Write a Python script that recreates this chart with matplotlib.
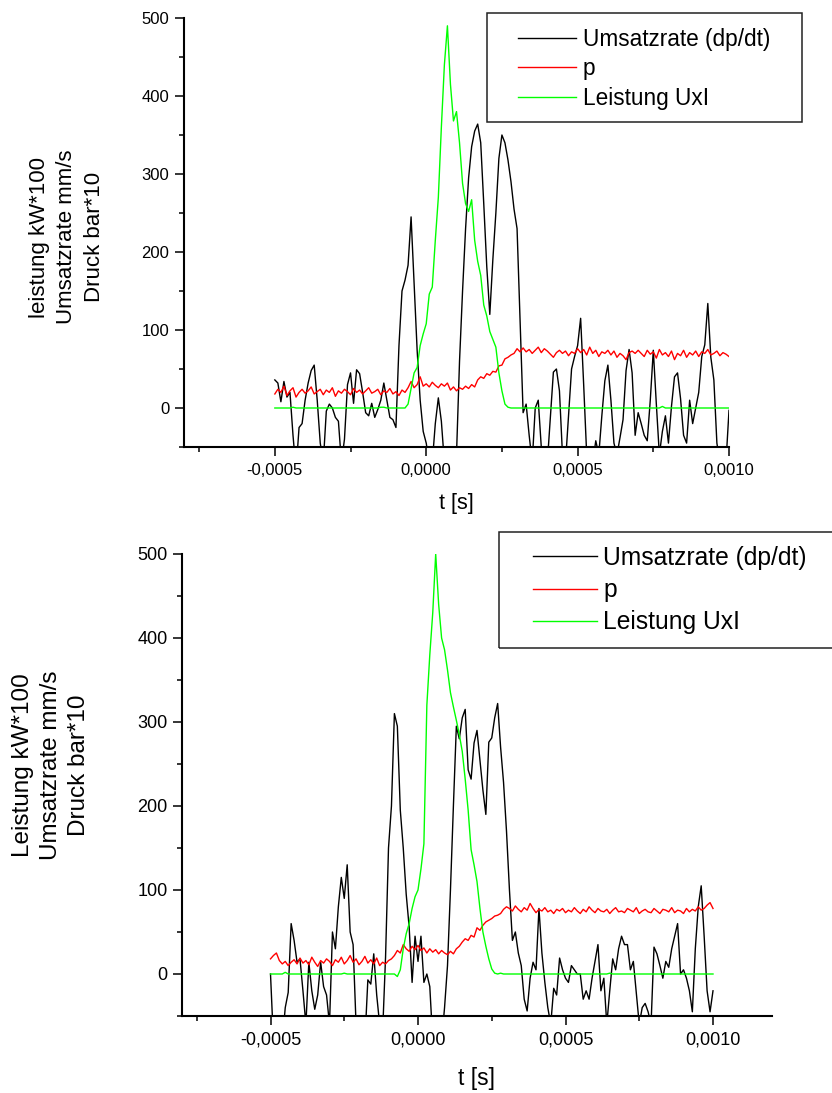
import numpy as np
import matplotlib
matplotlib.use("Agg")
import matplotlib.pyplot as plt
from matplotlib.patches import Rectangle
from matplotlib.ticker import FixedLocator, FuncFormatter

plt.rcParams['font.family'] = ['Liberation Sans', 'DejaVu Sans']

# time grid of the measurement, 10 us steps
t = np.linspace(-0.0005, 0.0010, 151)

# upper chart
ums_top = [
    36, 32, 8, 34, 14, 20, -35, -80, -25, -20,
    10, 32, 48, 55, 10, -45, -70, -4, 5, 0,
    -12, -17, -70, -40, 30, 45, 6, 49, 44, 20,
    -6, -10, 6, -12, -2, 10, 32, 10, -12, -15,
    -25, 80, 150, 164, 183, 245, 158, 74, 10, -30,
    -45, -70, -70, -20, 13, -17, -70, -80, -80, -80,
    -60, 60, 150, 230, 295, 335, 355, 364, 340, 262,
    181, 120, 190, 250, 320, 350, 340, 318, 290, 255,
    230, 113, -6, 5, -35, -70, 0, 10, -50, -70,
    -70, -12, 46, 50, 22, -60, -70, -10, 50, 66,
    80, 115, 30, -60, -80, -70, -42, -60, -10, 35,
    55, 10, -45, -60, -38, -15, 48, 75, 45, -35,
    -6, -20, -35, -42, 10, 74, 5, -60, -30, -10,
    -45, 2, 40, 45, 12, -35, -45, 10, -20, 0,
    20, 66, 81, 134, 65, 36, -45, -70, -70, -70,
    -3]
p_top = [
    18, 24, 20, 28, 16, 22, 26, 14, 20, 24,
    19, 22, 27, 18, 21, 24, 17, 23, 20, 26,
    15, 22, 19, 24, 21, 17, 25, 20, 23, 18,
    22, 26, 19, 21, 24, 17, 22, 20, 25, 18,
    21, 16, 23, 20, 26, 34, 26, 30, 40, 28,
    31, 27, 33, 29, 26, 31, 28, 32, 23, 27,
    22, 26, 24, 28, 25, 30, 27, 36, 40, 38,
    44, 42, 47, 46, 54, 55, 63, 65, 68, 70,
    76, 72, 77, 72, 75, 70, 74, 78, 71, 76,
    73, 69, 65, 71, 74, 70, 73, 67, 72, 70,
    76, 71, 75, 68, 78, 70, 74, 66, 72, 70,
    74, 68, 73, 65, 70, 67, 62, 71, 73, 70,
    74, 70, 66, 74, 69, 72, 64, 75, 68, 71,
    66, 73, 62, 70, 67, 74, 65, 71, 68, 73,
    66, 72, 70, 75, 68, 70, 73, 67, 71, 69,
    66]
leist_top = [
    0, 0, 0, 0, 0, 0, 1, 0, 0, 0,
    0, 0, 0, 0, 0, 0, 0, 0, 0, 0,
    0, 0, 0, 0, 0, 0, 0, 0, 0, 0,
    0, 0, 0, 0, 0, 1, 1, 0, 0, 0,
    0, 0, 0, 0, 5, 25, 45, 52, 80, 95,
    108, 146, 155, 215, 270, 360, 440, 490, 415, 368,
    380, 340, 288, 262, 252, 267, 215, 188, 170, 132,
    118, 98, 88, 78, 45, 22, 5, 1, 0, 0,
    0, 0, 0, 0, 0, 0, 0, 0, 0, 0,
    0, 0, 0, 0, 0, 0, 0, 0, 0, 0,
    0, 0, 0, 0, 0, 0, 0, 0, 0, 0,
    0, 0, 0, 0, 0, 0, 0, 0, 0, 0,
    0, 0, 0, 0, 0, 0, 0, 0, 2, 0,
    0, 0, 0, 0, 0, 0, 0, 0, 0, 0,
    0, 0, 0, 0, 0, 0, 0, 0, 0, 0,
    0]

# lower chart
ums_bot = [
    0, -80, -80, -80, -80, -40, -22, 60, 40, 14,
    18, -20, -60, 14, -20, -42, -25, 14, -15, -25,
    -60, 50, 30, 80, 115, 90, 130, 50, 35, -60,
    -80, -80, -80, -7, -12, 24, -25, -60, -70, 20,
    150, 200, 310, 295, 195, 150, 95, 56, -10, 45,
    15, 45, -10, 0, -15, -80, -80, -80, -80, -40,
    10, 100, 200, 295, 280, 305, 315, 243, 232, 275,
    290, 255, 219, 190, 276, 281, 305, 322, 270, 228,
    170, 100, 40, 50, 25, 10, -30, -44, -5, 14,
    5, 78, 25, -10, -40, -60, -17, -25, 19, 5,
    -5, -10, 10, 5, 0, 0, -30, -20, -30, -5,
    15, 35, -20, -5, -60, -20, 18, 5, 30, 45,
    35, 35, 5, 15, -22, -60, -40, -35, -45, -60,
    32, 24, 10, -5, 15, 8, 30, 45, 60, 0,
    5, -5, -20, -45, 30, 80, 105, 45, -20, -45,
    -20]
p_bot = [
    18, 22, 25, 16, 12, 15, 10, 14, 17, 12,
    19, 13, 16, 11, 20, 14, 9, 16, 13, 18,
    15, 10, 17, 14, 20, 12, 16, 22, 14, 18,
    11, 15, 21, 13, 17, 12, 19, 10, 14, 12,
    16, 18, 22, 28, 25, 35, 30, 27, 33, 29,
    34, 28, 31, 25, 30, 26, 29, 24, 28, 25,
    23, 27, 24, 30, 33, 38, 42, 40, 46, 44,
    55, 52, 58, 62, 64, 66, 69, 70, 72, 77,
    80, 78, 75, 81, 77, 74, 79, 76, 84, 78,
    73, 77, 75, 79, 74, 76, 72, 77, 75, 78,
    73, 76, 74, 79, 75, 72, 77, 74, 80, 76,
    73, 78, 75, 74, 77, 72, 76, 79, 74, 75,
    73, 78, 76, 74, 79, 72, 75, 77, 74, 73,
    78, 75, 72, 77, 76, 74, 79, 73, 76, 75,
    72, 78, 74, 77, 75, 80, 76, 78, 82, 85,
    78]
leist_bot = [
    0, 0, 0, 0, 0, 2, 0, 0, 0, 0,
    0, 0, 0, 0, 0, 0, 0, 0, 0, 0,
    0, 0, 0, 0, 0, 1, 0, 0, 0, 0,
    0, 0, 0, 0, 0, 0, 0, 0, 0, 0,
    0, 0, 0, -3, 5, 30, 48, 60, 78, 92,
    100, 125, 155, 320, 380, 430, 500, 440, 400, 386,
    362, 335, 318, 302, 285, 265, 232, 195, 148, 130,
    110, 78, 50, 33, 18, 6, 1, 0, 1, 0,
    0, 0, 0, 0, 0, 0, 0, 0, 0, 0,
    0, 0, 0, 0, 0, 0, 0, 0, 0, 0,
    0, 0, 0, 0, 0, 0, 0, 0, 0, 0,
    0, 0, 0, 0, 0, 1, 0, 0, 0, 0,
    0, 0, 0, 0, 0, 0, 0, 0, 0, 0,
    0, 0, 0, 0, 0, 0, 0, 0, 0, 0,
    0, 0, 0, 0, 0, 0, 0, 0, 0, 0,
    0]

labels = ['Umsatzrate (dp/dt)', 'p', 'Leistung UxI']
colors = ['#000000', '#ff0000', '#00ff00']
x_major = [-0.0005, 0.0, 0.0005, 0.0010]
x_minor = [-0.00075, -0.00025, 0.00025, 0.00075]
y_major = [0, 100, 200, 300, 400, 500]
y_minor = [-50, 50, 150, 250, 350, 450]

W, H = 832, 1093


def comma_fmt(v, pos):
    if abs(v) < 1e-12:
        v = 0.0
    return ('%.4f' % v).replace('.', ',')


def style_axis(ax, xmax, tick_size):
    ax.set_xlim(-0.0008, xmax)
    ax.set_ylim(-50, 500)
    for side in ['top', 'right']:
        ax.spines[side].set_visible(False)
    for side in ['left', 'bottom']:
        ax.spines[side].set_linewidth(1.5)
    ax.xaxis.set_major_locator(FixedLocator(x_major))
    ax.xaxis.set_minor_locator(FixedLocator(x_minor))
    ax.yaxis.set_major_locator(FixedLocator(y_major))
    ax.yaxis.set_minor_locator(FixedLocator(y_minor))
    ax.xaxis.set_major_formatter(FuncFormatter(comma_fmt))
    ax.tick_params(which='major', direction='out', length=6.5, width=1.1,
                   labelsize=tick_size, pad=4)
    ax.tick_params(which='minor', direction='out', length=3.6, width=1.1)
    ax.tick_params(axis='x', which='major', pad=5)


def draw(ax, series):
    lines = []
    for vals, c, lab in zip(series, colors, labels):
        ln, = ax.plot(t, vals, color=c, lw=1.0, label=lab)
        lines.append(ln)
    return lines


fig = plt.figure(figsize=(W / 100, H / 100), dpi=100)

# top chart
ax1 = fig.add_axes([184 / W, 1 - 447 / H, (729 - 184) / W, (447 - 18) / H])
lines1 = draw(ax1, [ums_top, p_top, leist_top])
style_axis(ax1, 0.0010, 12)
fig.text(67 / W, 1 - 237 / H, 'leistung kW*100\nUmsatzrate mm/s\nDruck bar*10',
         rotation=90, ha='center', va='center', multialignment='center',
         fontsize=16, linespacing=1.38)
fig.text(456 / W, 1 - 503 / H, 't [s]', ha='center', va='center', fontsize=15.5)
leg1 = ax1.legend(handles=lines1, loc='upper left',
                  bbox_to_anchor=(518 / W, 1 - 28 / H), bbox_transform=fig.transFigure,
                  frameon=False, borderpad=0, borderaxespad=0, handlelength=2.57,
                  handletextpad=0.3, labelspacing=0.28, fontsize=16.3)
fig.add_artist(Rectangle((487 / W, 1 - 122 / H), (802 - 487) / W, 109 / H,
                         transform=fig.transFigure, fill=False, lw=1.1,
                         edgecolor='#222222'))

# bottom chart
ax2 = fig.add_axes([182 / W, 1 - 1016 / H, (772 - 182) / W, (1016 - 554) / H])
lines2 = draw(ax2, [ums_bot, p_bot, leist_bot])
style_axis(ax2, 0.0012, 13)
fig.text(51 / W, 1 - 765 / H, 'Leistung kW*100\nUmsatzrate mm/s\nDruck bar*10',
         rotation=90, ha='center', va='center', multialignment='center',
         fontsize=17.5, linespacing=1.38)
fig.text(477 / W, 1 - 1078 / H, 't [s]', ha='center', va='center', fontsize=16.5)
leg2 = ax2.legend(handles=lines2, loc='upper left',
                  bbox_to_anchor=(533 / W, 1 - 546 / H), bbox_transform=fig.transFigure,
                  frameon=False, borderpad=0, borderaxespad=0, handlelength=2.6,
                  handletextpad=0.25, labelspacing=0.33, fontsize=17.7)
fig.add_artist(Rectangle((499 / W, 1 - 648 / H), 400 / W, 116 / H,
                         transform=fig.transFigure, fill=False, lw=1.1,
                         edgecolor='#222222'))

fig.savefig('out.png', dpi=100)
